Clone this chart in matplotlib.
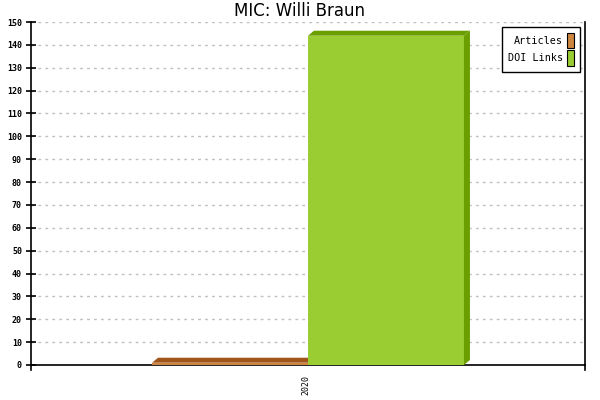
import numpy as np
import matplotlib.pyplot as plt
from matplotlib.patches import Polygon, Patch

# data
years = ['2020']
series = ['Articles', 'DOI Links']
values = [1, 144]
front_cols = ['#cd853f', '#9acd32']
dark_cols = ['#a0561a', '#6b9e00']

fig = plt.figure(figsize=(6, 4), dpi=100)
ax = fig.add_axes([31 / 600, 35 / 400, 554 / 600, 343 / 400])

ax.set_xlim(0, 2)
ax.set_ylim(0, 150)

width = 0.563
dx = 6 / 277.0          # 3d depth, data units
dy = 5 / (343 / 150.0)

for i, (name, v) in enumerate(zip(series, values)):
    x0 = 1 - width + i * width
    x1 = x0 + width
    ax.bar(x0, v, width=width, align='edge', color=front_cols[i], zorder=3)
    top = Polygon([(x0, v), (x0 + dx, v + dy), (x1 + dx, v + dy), (x1, v)],
                  closed=True, facecolor=dark_cols[i], edgecolor='none', zorder=3)
    side = Polygon([(x1, 0), (x1 + dx, dy), (x1 + dx, v + dy), (x1, v)],
                   closed=True, facecolor=dark_cols[i], edgecolor='none', zorder=3)
    ax.add_patch(top)
    ax.add_patch(side)

ax.set_yticks(np.arange(0, 151, 10))
ax.set_yticklabels([str(t) for t in range(0, 151, 10)],
                   family='DejaVu Sans Mono', fontsize=6, fontweight='bold')
ax.yaxis.grid(True, color='#c0c0c0', linestyle=(0, (2, 3)), linewidth=1)
ax.set_axisbelow(True)
ax.tick_params(axis='y', direction='inout', length=7, width=1.2, pad=3)

ax.set_xticks([0, 2])
ax.set_xticklabels(['', ''])
ax.tick_params(axis='x', direction='in', length=0)
for xx in (0, 2):
    ax.plot([xx, xx], [0, -2.2], color='black', lw=1.2, clip_on=False)
ax.text(1 - 0.008, -4.5, years[0], rotation=90, ha='center', va='top',
        family='DejaVu Sans Mono', fontsize=6)

ax.spines['top'].set_visible(False)
for s in ('left', 'bottom', 'right'):
    ax.spines[s].set_linewidth(1.2)

handles = [Patch(facecolor=c, edgecolor='black', linewidth=0.8) for c in front_cols]
leg = fig.legend(handles, series, loc='upper right', bbox_to_anchor=(580 / 600, 1 - 27 / 400),
                 markerfirst=False, fancybox=False, framealpha=1, edgecolor='black',
                 handlelength=0.7, handleheight=2.0, handletextpad=0.45,
                 borderpad=0.55, labelspacing=0.2, borderaxespad=0,
                 prop={'family': 'DejaVu Sans Mono', 'size': 7.3})
leg.get_frame().set_linewidth(1.0)

fig.text(0.5, 1 - 11 / 400, 'MIC: Willi Braun', ha='center', va='center', fontsize=12)

plt.savefig('out.png', dpi=100)
